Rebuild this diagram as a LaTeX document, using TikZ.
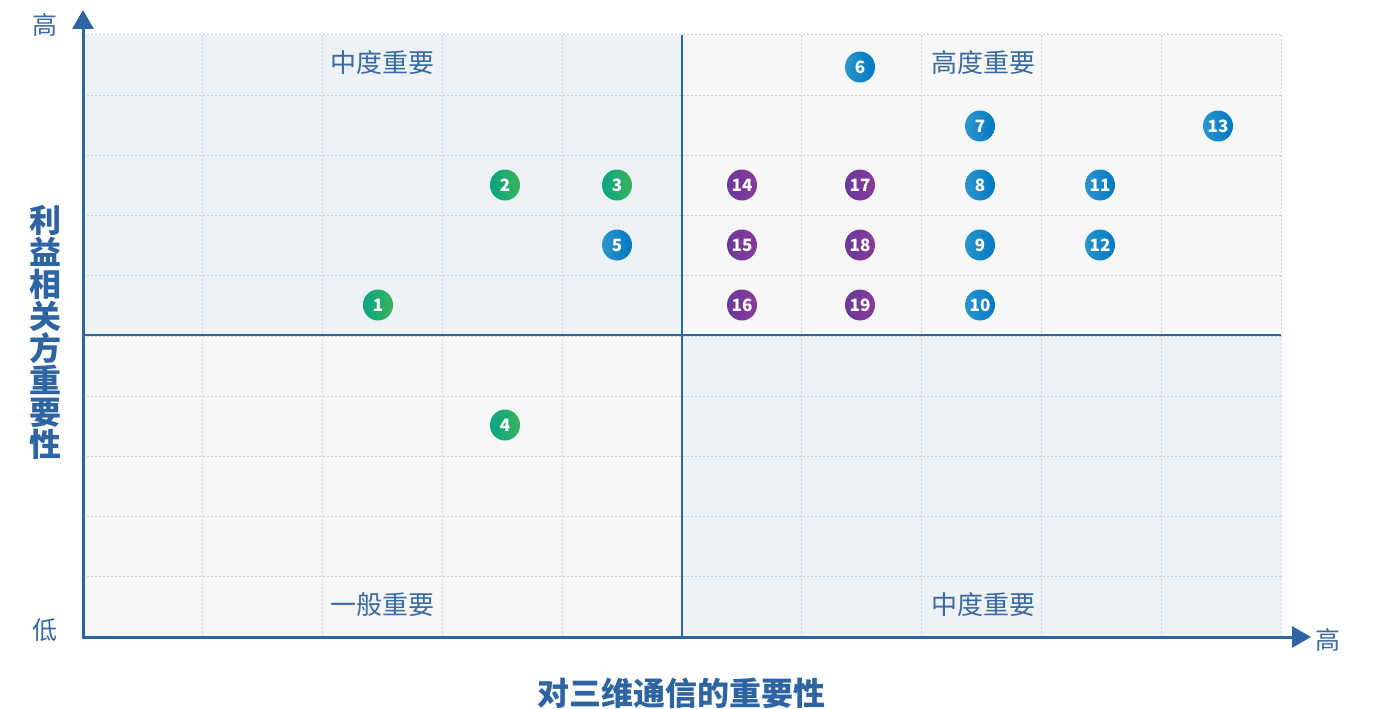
\documentclass[tikz,border=0pt]{standalone}
\usepackage{fontspec}
\setmainfont{Noto Sans CJK SC}
\usetikzlibrary{arrows.meta}
\definecolor{axisc}{HTML}{2E64A2}
\definecolor{labc}{HTML}{3A6AA3}
\definecolor{qblue}{HTML}{EDF2F7}
\definecolor{qgray}{HTML}{F7F7F7}
\definecolor{gridc}{HTML}{C3D1E5}
\definecolor{gA}{HTML}{0BA583}
\definecolor{gB}{HTML}{3AB35A}
\definecolor{bA}{HTML}{2C95CC}
\definecolor{bB}{HTML}{0078C2}
\definecolor{pA}{HTML}{68399A}
\definecolor{pB}{HTML}{8A3A98}
\tikzset{
  dot/.style={ellipse, inner sep=0pt, minimum width=30pt, minimum height=31pt, text=white,
    font=\bfseries\fontsize{17}{17}\selectfont},
  gdot/.style={dot, left color=gA, right color=gB},
  bdot/.style={dot, left color=bA, right color=bB},
  pdot/.style={dot, left color=pA, right color=pB},
  gridline/.style={gridc, line width=1pt, dash pattern=on 2pt off 2pt},
  axisline/.style={axisc, line width=3pt},
  midline/.style={axisc, line width=2.5pt},
  quadlab/.style={text=labc, font=\fontsize{26}{26}\selectfont, inner sep=0pt},
  ticklab/.style={text=labc, font=\fontsize{25}{25}\selectfont, inner sep=0pt},
  title/.style={text=axisc, font=\bfseries\fontsize{32}{32}\selectfont, inner sep=0pt}
}
\usetikzlibrary{shapes.geometric}
\begin{document}
\begin{tikzpicture}[x=1pt,y=-1pt]
\useasboundingbox (0,0) rectangle (1373,709);
% quadrants
\fill[qblue] (83,35) rectangle (682,335);
\fill[qgray] (682,35) rectangle (1281,335);
\fill[qgray] (83,335) rectangle (682,637);
\fill[qblue] (682,335) rectangle (1281,637);
% grid
\foreach \k in {1,...,10} {
  \draw[gridline] ({83+119.8*\k},35) -- ({83+119.8*\k},637);
}
\foreach \k in {0,...,9} {
  \draw[gridline] (83,{35+60.2*\k}) -- (1281,{35+60.2*\k});
}
% coordinates
\coordinate (O) at (83,637);
\coordinate (ytip) at (83,10);
\coordinate (xtip) at (1311,637);
\coordinate (hl) at (83,335);
\coordinate (hr) at (1281,335);
\coordinate (vt) at (682,35);
\coordinate (vb) at (682,637);
% mid lines
\draw[midline] (hl) -- (hr);
\draw[midline] (vt) -- (vb);
% axes
\draw[axisline, -{Triangle[width=21pt,length=19pt]}] ([yshift=-1.5pt]O) -- (ytip);
\draw[axisline, -{Triangle[width=21pt,length=19pt]}] ([xshift=-1.5pt]O) -- (xtip);
% quadrant labels
\node[quadlab] (q1) at (382,63) {中度重要};
\node[quadlab] (q2) at (983,63) {高度重要};
\node[quadlab] (q3) at (382,605) {一般重要};
\node[quadlab] (q4) at (983,605) {中度重要};
% tick labels
\node[ticklab] (yh) at (45,25) {高};
\node[ticklab] (yl) at (45,630) {低};
\node[ticklab] (xh) at (1328,640) {高};
% titles
\node[title, align=center] (yt) at (45,332) {利\\益\\相\\关\\方\\重\\要\\性};
\node[title] (xt) at (681,693) {对三维通信的重要性};
% dots
\node[gdot] (d1) at (378,305) {1};
\node[gdot] (d2) at (505,185) {2};
\node[gdot] (d3) at (617,185) {3};
\node[gdot] (d4) at (505,425) {4};
\node[bdot] (d5) at (617,245) {5};
\node[bdot] (d6) at (860,67) {6};
\node[bdot] (d7) at (980,126) {7};
\node[bdot] (d8) at (980,185) {8};
\node[bdot] (d9) at (980,245) {9};
\node[bdot] (d10) at (980,305) {10};
\node[bdot] (d11) at (1100,185) {11};
\node[bdot] (d12) at (1100,245) {12};
\node[bdot] (d13) at (1218,126) {13};
\node[pdot] (d14) at (742,185) {14};
\node[pdot] (d15) at (742,245) {15};
\node[pdot] (d16) at (742,305) {16};
\node[pdot] (d17) at (860,185) {17};
\node[pdot] (d18) at (860,245) {18};
\node[pdot] (d19) at (860,305) {19};
\end{tikzpicture}
\end{document}
